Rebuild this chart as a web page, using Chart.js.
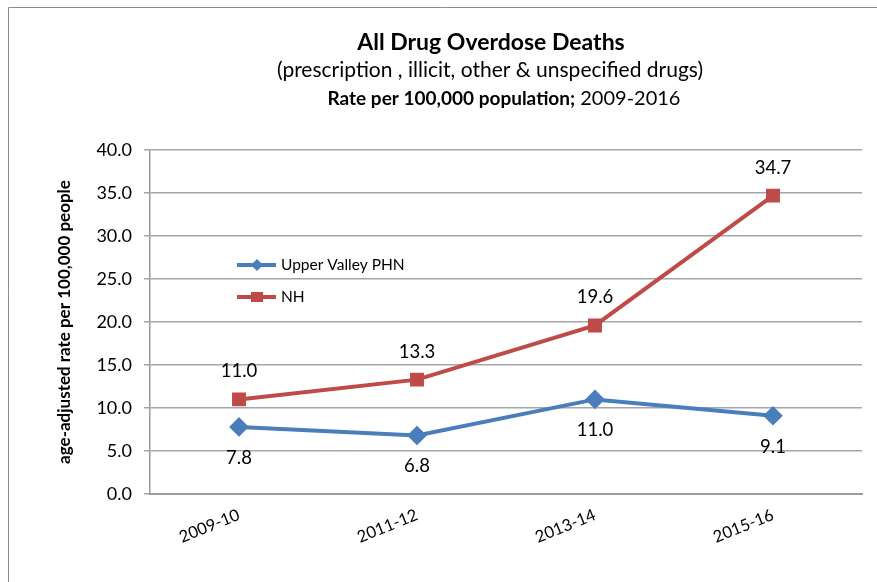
<!DOCTYPE html>
<html>
<head>
<meta charset="utf-8">
<script src="https://cdn.jsdelivr.net/npm/chart.js@4"></script>
<style>
  body { margin: 0; background: #fff; }
  #wrap { width: 877px; height: 582px; }
</style>
</head>
<body>
<div id="wrap"><canvas id="myChart" width="877" height="582"></canvas></div>
<script>
const periods = ["2009-10", "2011-12", "2013-14", "2015-16"];
const upperValley = [7.8, 6.8, 11.0, 9.1];
const nhRates = [11.0, 13.3, 19.6, 34.7];
const seriesNames = ["Upper Valley PHN", "NH"];
const titleLines = ["All Drug Overdose Deaths", "(prescription , illicit, other & unspecified drugs)"];
const titleBold = "Rate per 100,000 population;";
const titleRest = " 2009-2016";
const yTitle = "age-adjusted rate per 100,000 people";

const FONT = "Lato, 'Open Sans', sans-serif";
const blue = "#4A7EBB";
const red = "#BE4B48";

// title, frame, legend and point labels
const extras = {
  id: "extras",
  afterDraw(chart) {
    const c = chart.ctx;
    c.save();
    c.strokeStyle = "#8c8c8c";
    c.lineWidth = 1;
    c.beginPath();
    c.moveTo(8.5, 582);
    c.lineTo(8.5, 7.5);
    c.lineTo(877, 7.5);
    c.stroke();

    c.fillStyle = "#000";
    c.textAlign = "center";
    c.textBaseline = "middle";
    c.font = "bold 23px " + FONT;
    c.fillText(titleLines[0], 491, 43);
    c.font = "21px " + FONT;
    c.fillText(titleLines[1], 490, 70);
    c.font = "bold 19px " + FONT;
    const w1 = c.measureText(titleBold).width;
    c.font = "20px " + FONT;
    const w2 = c.measureText(titleRest).width;
    let x0 = 504 - (w1 + w2) / 2;
    c.textAlign = "left";
    c.font = "bold 19px " + FONT;
    c.fillText(titleBold, x0, 99);
    c.font = "20px " + FONT;
    c.fillText(titleRest, x0 + w1, 99);

    // legend inside the plot
    const legY = [265, 297];
    chart.data.datasets.forEach((ds, i) => {
      const y = legY[i];
      c.strokeStyle = ds.borderColor;
      c.lineWidth = 4;
      c.beginPath();
      c.moveTo(237, y);
      c.lineTo(276, y);
      c.stroke();
      c.fillStyle = ds.borderColor;
      if (i === 0) {
        c.beginPath();
        c.moveTo(257, y - 6);
        c.lineTo(263, y);
        c.lineTo(257, y + 6);
        c.lineTo(251, y);
        c.closePath();
        c.fill();
      } else {
        c.fillRect(251, y - 5, 12, 10);
      }
      c.fillStyle = "#000";
      c.font = "15.5px " + FONT;
      c.textAlign = "left";
      c.fillText(ds.label, 281, y);
    });

    // data labels
    c.font = "18.5px " + FONT;
    c.textAlign = "center";
    chart.data.datasets.forEach((ds, i) => {
      const meta = chart.getDatasetMeta(i);
      meta.data.forEach((pt, j) => {
        const dy = i === 0 ? 31 : -28;
        c.fillText(ds.data[j].toFixed(1), pt.x, pt.y + dy);
      });
    });
    c.restore();
  }
};

new Chart(document.getElementById("myChart"), {
  type: "line",
  data: {
    labels: periods,
    datasets: [
      {
        label: seriesNames[0],
        data: upperValley,
        borderColor: blue,
        backgroundColor: blue,
        borderWidth: 4,
        pointStyle: "rectRot",
        pointRadius: 7,
        pointHoverRadius: 7,
        tension: 0
      },
      {
        label: seriesNames[1],
        data: nhRates,
        borderColor: red,
        backgroundColor: red,
        borderWidth: 4,
        pointStyle: "rect",
        pointRadius: 7,
        pointHoverRadius: 7,
        tension: 0
      }
    ]
  },
  options: {
    responsive: false,
    animation: false,
    layout: { padding: { top: 150, left: 10, right: 15, bottom: 0 } },
    plugins: {
      legend: { display: false },
      title: { display: false },
      tooltip: { enabled: false }
    },
    scales: {
      x: {
        offset: true,
        grid: { display: false, drawTicks: true, tickLength: 5 },
        border: { color: "#9a9a9a", width: 2 },
        ticks: {
          color: "#000",
          font: { family: FONT, size: 16.5 },
          minRotation: 22,
          maxRotation: 22,
          padding: 6
        },
        afterFit(scale) { scale.height = 88; }
      },
      y: {
        min: 0,
        max: 40,
        ticks: {
          stepSize: 5,
          color: "#000",
          font: { family: FONT, size: 18 },
          padding: 12,
          callback: (v) => v.toFixed(1)
        },
        grid: { color: "#a6a6a6", lineWidth: 1.5, tickLength: 6 },
        border: { color: "#9a9a9a", width: 1.5 },
        title: {
          display: true,
          text: yTitle,
          color: "#000",
          padding: { top: 44, bottom: 0 },
          font: { family: FONT, size: 17, weight: "bold" }
        },
        afterFit(scale) { scale.width = 140; }
      }
    }
  },
  plugins: [extras]
});
</script>
</body>
</html>
